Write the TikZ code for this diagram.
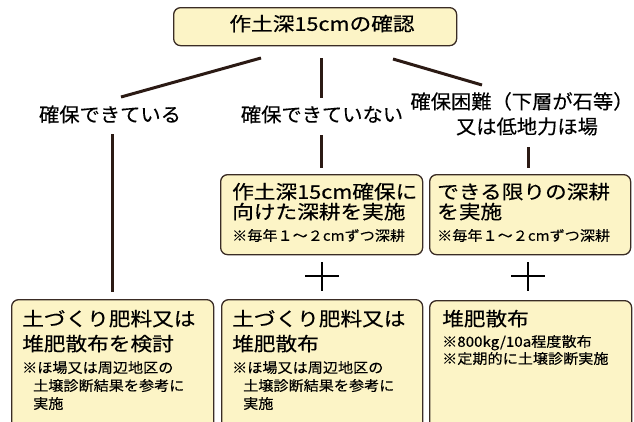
\documentclass[tikz,border=0pt]{standalone}
\usepackage{fontspec}
\setmainfont{Noto Sans CJK JP}
\newfontfamily\jpwide[FakeStretch=1.14,FakeBold=0.4]{Noto Sans CJK JP}
\newfontfamily\jpsmall[FakeStretch=1.08,FakeBold=0.25]{Noto Sans CJK JP}
\newfontfamily\jplabel[FakeStretch=1.04,FakeBold=0.25]{Noto Sans CJK JP}
\definecolor{boxfill}{HTML}{FCF4C6}
\definecolor{boxline}{HTML}{3A2C25}
\definecolor{linkc}{HTML}{2B1A14}
\tikzset{
  box/.style={draw=boxline, fill=boxfill, line width=1.3pt, rounded corners=7pt, inner sep=0pt, anchor=north west},
  link/.style={draw=linkc, line width=3pt},
  plusline/.style={draw=black, line width=2.6pt},
  lbl/.style={inner sep=0pt, text height=0.88em, text depth=0.12em, font=\jplabel\fontsize{19.5}{20}\selectfont},
  bigtxt/.style={anchor=west, inner sep=0pt, text height=0.88em, text depth=0.12em, font=\jpwide\fontsize{19}{20}\selectfont},
  smalltxt/.style={anchor=west, inner sep=0pt, text height=0.88em, text depth=0.12em, font=\jpsmall\fontsize{14}{14}\selectfont}
}
\begin{document}
\begin{tikzpicture}[x=1pt,y=-1pt]
\clip (0,0) rectangle (634,421);
% top box
\node[box, minimum width=283pt, minimum height=38pt] (top) at (173,7) {};
\node[inner sep=0pt, text height=0.88em, text depth=0.12em, font=\jpwide\fontsize{19}{20}\selectfont] (toptxt) at (322,27) {作土深15cmの確認};
% branch lines
\coordinate (l1s) at (261,58); \coordinate (l1e) at (121,97);
\coordinate (l2s) at (321,58); \coordinate (l2e) at (321,98);
\coordinate (l3s) at (393,59); \coordinate (l3e) at (482,85);
\draw[link] (l1s) -- (l1e);
\draw[link] (l2s) -- (l2e);
\draw[link] (l3s) -- (l3e);
% labels
\node[lbl] (lab1) at (110,118) {確保できている};
\node[lbl] (lab2) at (322,118) {確保できていない};
\node[lbl] (lab3a) at (522,105) {確保困難（下層が石等）};
\node[lbl] (lab3b) at (527,130) {又は低地力ほ場};
% vertical lines
\coordinate (v1s) at (112,134); \coordinate (v1e) at (112,292);
\coordinate (v2s) at (321,135); \coordinate (v2e) at (321,168);
\coordinate (v3s) at (528,147); \coordinate (v3e) at (528,168);
\draw[link] (v1s) -- (v1e);
\draw[link] (v2s) -- (v2e);
\draw[link] (v3s) -- (v3e);
% row 2 boxes
\node[box, minimum width=202pt, minimum height=80pt] (b2a) at (220,174) {};
\node[box, minimum width=201pt, minimum height=80pt] (b2b) at (429,174) {};
\node[bigtxt] (b2a1) at (232,195) {作土深15cm確保に};
\node[bigtxt] (b2a2) at (232,215) {向けた深耕を実施};
\node[smalltxt] (b2a3) at (232,237) {※毎年１～２cmずつ深耕};
\node[bigtxt] (b2b1) at (437,195) {できる限りの深耕};
\node[bigtxt] (b2b2) at (437,215) {を実施};
\node[smalltxt] (b2b3) at (437,237) {※毎年１～２cmずつ深耕};
% plus signs
\coordinate (p1l) at (305,276); \coordinate (p1r) at (339,276);
\coordinate (p1t) at (322,262); \coordinate (p1b) at (322,291);
\coordinate (p2l) at (511,276); \coordinate (p2r) at (545,276);
\coordinate (p2t) at (528,262); \coordinate (p2b) at (528,291);
\draw[plusline] (p1l) -- (p1r); \draw[plusline] (p1t) -- (p1b);
\draw[plusline] (p2l) -- (p2r); \draw[plusline] (p2t) -- (p2b);
% row 3 boxes
\node[box, minimum width=202pt, minimum height=140pt] (b3a) at (11,299) {};
\node[box, minimum width=201pt, minimum height=140pt] (b3b) at (221,299) {};
\node[box, minimum width=202pt, minimum height=140pt] (b3c) at (429,300) {};
\node[bigtxt] (b3a1) at (22,322) {土づくり肥料又は};
\node[bigtxt] (b3a2) at (22,347) {堆肥散布を検討};
\node[smalltxt] (b3a3) at (22,369) {※ほ場又は周辺地区の};
\node[smalltxt] (b3a4) at (33,387) {土壌診断結果を参考に};
\node[smalltxt] (b3a5) at (33,405) {実施};
\node[bigtxt] (b3b1) at (232,322) {土づくり肥料又は};
\node[bigtxt] (b3b2) at (232,347) {堆肥散布};
\node[smalltxt] (b3b3) at (232,369) {※ほ場又は周辺地区の};
\node[smalltxt] (b3b4) at (243,387) {土壌診断結果を参考に};
\node[smalltxt] (b3b5) at (243,405) {実施};
\node[bigtxt] (b3c1) at (442,322) {堆肥散布};
\node[smalltxt] (b3c2) at (442,343) {※800kg/10a程度散布};
\node[smalltxt] (b3c3) at (442,360) {※定期的に土壌診断実施};
\end{tikzpicture}
\end{document}
